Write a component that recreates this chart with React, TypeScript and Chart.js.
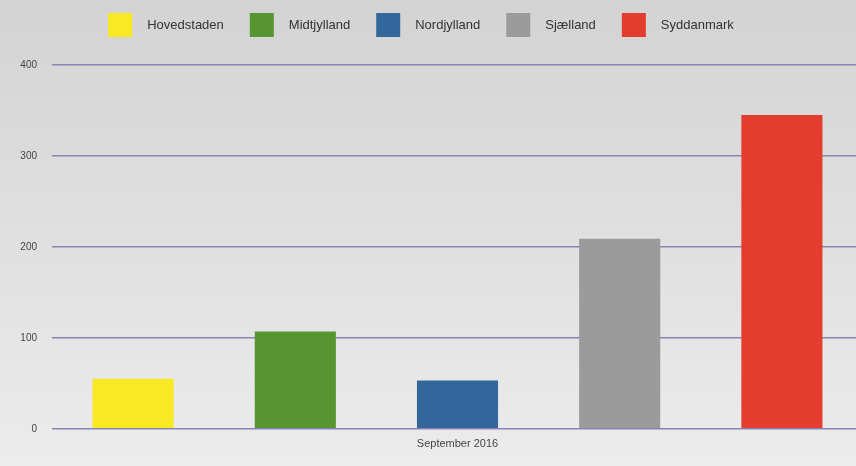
import React, { useEffect, useRef } from "react";
import { Chart, registerables } from "chart.js";

Chart.register(...registerables);

const categories = ["September 2016"];
const regions = ["Hovedstaden", "Midtjylland", "Nordjylland", "Sjælland", "Syddanmark"];
const values = [55, 107, 53, 209, 345];
const colors = ["#f9e925", "#56952f", "#33669b", "#9b9b9b", "#e43c2f"];
const yTicks = [0, 100, 200, 300, 400];

const FONT = "Liberation Sans";

const bgPlugin = {
  id: "bgGradient",
  beforeDraw(chart: any) {
    const { ctx, width, height } = chart;
    const g = ctx.createLinearGradient(0, 0, 0, height);
    g.addColorStop(0, "#d3d3d3");
    g.addColorStop(1, "#ececec");
    ctx.save();
    ctx.fillStyle = g;
    ctx.fillRect(0, 0, width, height);
    ctx.restore();
  },
};

const legendPlugin = {
  id: "customLegend",
  afterDraw(chart: any) {
    const { ctx } = chart;
    const ds = chart.data.datasets;
    const boxW = 24;
    const boxH = 24;
    const gapText = 15;
    const gapItem = 26;
    const centerX = 421;
    const centerY = 25;
    ctx.save();
    ctx.font = `13px "${FONT}"`;
    const widths = ds.map((d: any) => ctx.measureText(d.label).width);
    const total =
      widths.reduce((a: number, b: number) => a + b, 0) +
      ds.length * (boxW + gapText) +
      (ds.length - 1) * gapItem;
    let x = centerX - total / 2;
    ctx.textBaseline = "middle";
    ctx.textAlign = "left";
    ds.forEach((d: any, i: number) => {
      ctx.fillStyle = d.backgroundColor;
      ctx.fillRect(x, centerY - boxH / 2, boxW, boxH);
      x += boxW + gapText;
      ctx.fillStyle = "#333";
      ctx.fillText(d.label, x, centerY);
      x += widths[i] + gapItem;
    });
    ctx.restore();
  },
};

export default function App() {
  const ref = useRef<HTMLCanvasElement>(null);
  useEffect(() => {
    document.body.style.margin = "0";
    const chart = new Chart(ref.current!, {
      type: "bar",
      data: {
        labels: categories,
        datasets: regions.map((r, i) => ({
          label: r,
          data: [values[i]],
          backgroundColor: colors[i],
          borderWidth: 0,
          categoryPercentage: 1,
          barPercentage: 0.5,
        })),
      },
      options: {
        animation: false,
        responsive: false,
        layout: { padding: { top: 65, bottom: 14, right: 0, left: 0 } },
        plugins: {
          legend: { display: false },
          tooltip: { enabled: false },
        },
        scales: {
          x: {
            grid: { display: false },
            border: { display: false },
            ticks: { color: "#444", font: { family: FONT, size: 11 }, padding: 1 },
          },
          y: {
            min: 0,
            max: 400,
            afterBuildTicks: (axis: any) => {
              axis.ticks = yTicks.map((v) => ({ value: v }));
            },
            afterFit: (axis: any) => {
              axis.width = 52;
            },
            grid: { color: "#8686b2", lineWidth: 1.5, drawTicks: false },
            border: { display: false },
            ticks: { color: "#444", font: { family: FONT, size: 10 }, padding: 15 },
          },
        },
      },
      plugins: [bgPlugin, legendPlugin],
    });
    return () => chart.destroy();
  }, []);
  return (
    <div style={{ width: 856, height: 466, overflow: "hidden" }}>
      <canvas ref={ref} width={863} height={466} style={{ display: "block" }} />
    </div>
  );
}
